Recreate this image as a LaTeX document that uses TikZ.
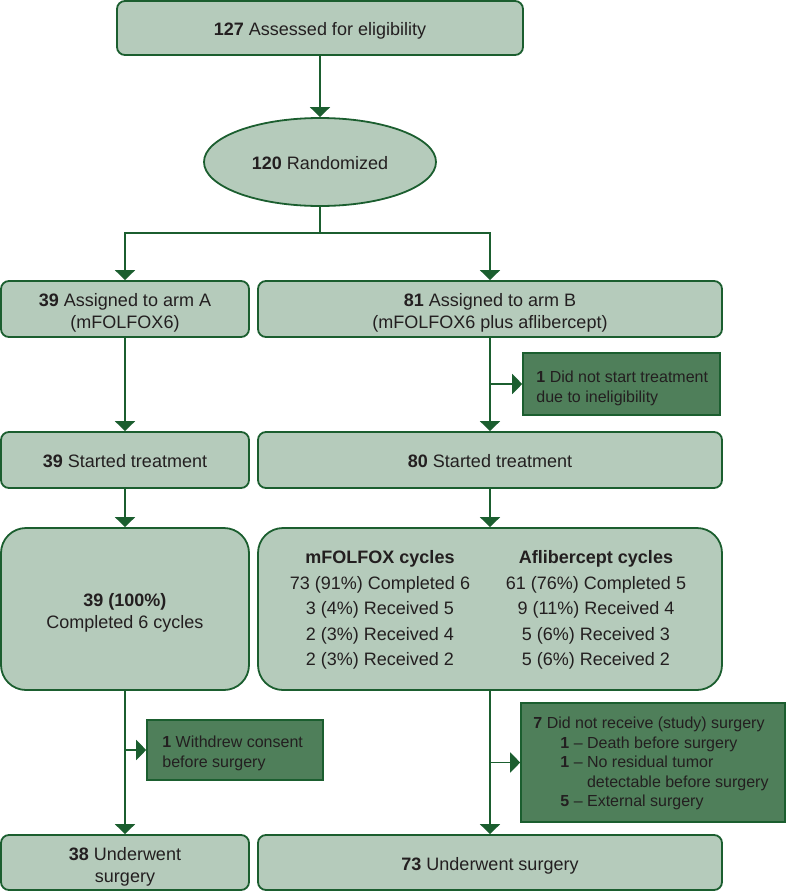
\documentclass[tikz,border=0pt]{standalone}
\usepackage{fontspec}
\setmainfont{Liberation Sans}
\usetikzlibrary{shapes.geometric,arrows.meta,calc}
\definecolor{lineg}{HTML}{1B5E2F}
\definecolor{boxfill}{HTML}{B5CBBB}
\definecolor{darkfill}{HTML}{4F7F5A}
\definecolor{txt}{HTML}{231F20}
\begin{document}
\begin{tikzpicture}[x=1pt,y=-1pt,
  mainbox/.style={draw=lineg, line width=1.8pt, fill=boxfill, rounded corners=8pt, text=txt,
    font=\fontsize{18pt}{22pt}\selectfont, align=center, inner sep=0pt,
    text height=16pt, text depth=1pt},
  twoline/.style={text height=42pt, text depth=3pt},
  cycbox/.style={mainbox, rounded corners=25pt},
  sidebox/.style={draw=lineg, line width=1.6pt, fill=darkfill, inner sep=0pt},
  sidetext/.style={text=txt, font=\fontsize{16pt}{19.4pt}\selectfont, align=left, inner sep=0pt, anchor=west,
    text depth=2pt},
  coltext/.style={text=txt, font=\fontsize{18pt}{25.5pt}\selectfont, align=center, inner sep=0pt,
    text height=116pt, text depth=3pt},
  conn/.style={draw=lineg, line width=1.8pt},
  arr/.style={conn, -{Triangle[length=10pt,width=20pt]}},
]
\useasboundingbox (0,0) rectangle (787,891);

% main boxes
\node[mainbox, minimum width=406, minimum height=54] (top) at (320,28) {\textbf{127} Assessed for eligibility};
\node[mainbox, ellipse, minimum width=232, minimum height=88] (rand) at (320,162) {\textbf{120} Randomized};
\node[mainbox, twoline, minimum width=248, minimum height=56] (armA) at (125,309) {\textbf{39} Assigned to arm A\\(mFOLFOX6)};
\node[mainbox, twoline, minimum width=464, minimum height=56] (armB) at (490,309) {\textbf{81} Assigned to arm B\\(mFOLFOX6 plus aflibercept)};
\node[mainbox, minimum width=248, minimum height=56] (startA) at (125,460) {\textbf{39} Started treatment};
\node[mainbox, minimum width=464, minimum height=56] (startB) at (490,460) {\textbf{80} Started treatment};
\node[cycbox, twoline, minimum width=248, minimum height=162] (cycA) at (125,609) {\textbf{39 (100\%)}\\Completed 6 cycles};
\node[cycbox, minimum width=464, minimum height=162, text height=0pt, text depth=0pt] (cycB) at (490,609) {};
\node[coltext] (colM) at (380,609) {\textbf{mFOLFOX cycles}\\73 (91\%) Completed 6\\3 (4\%) Received 5\\2 (3\%) Received 4\\2 (3\%) Received 2};
\node[coltext] (colF) at (596,609) {\textbf{Aflibercept cycles}\\61 (76\%) Completed 5\\9 (11\%) Received 4\\5 (6\%) Received 3\\5 (6\%) Received 2};
\node[mainbox, twoline, minimum width=248, minimum height=55] (surgA) at (125,862.5) {\textbf{38} Underwent\\surgery};
\node[mainbox, minimum width=464, minimum height=55] (surgB) at (490,862.5) {\textbf{73} Underwent surgery};

% side boxes
\node[sidebox, minimum width=197, minimum height=62] (inel) at (621.5,384) {};
\node[sidetext, text height=38pt] (ineltxt) at ($(inel.west)+(14,0)$) {\textbf{1} Did not start treatment\\due to ineligibility};
\node[sidebox, minimum width=176, minimum height=60] (withd) at (235,750) {};
\node[sidetext, text height=36pt] (withdtxt) at ($(withd.west)+(16,0)$) {\textbf{1} Withdrew consent\\before surgery};
\node[sidebox, minimum width=264, minimum height=119] (nosurg) at (653,762.5) {};
\node[sidetext, text height=90pt] (nosurgtxt) at ($(nosurg.west)+(13,0)$) {\textbf{7} Did not receive (study) surgery\\
\hspace*{27pt}\textbf{1} – Death before surgery\\
\hspace*{27pt}\textbf{1} – No residual tumor\\
\hspace*{27pt}\phantom{\textbf{1} – }detectable before surgery\\
\hspace*{27pt}\textbf{5} – External surgery};

% connectors
\coordinate (split) at (320,233);
\draw[arr] (top) -- (rand);
\draw[conn] (rand.south) -- (split);
\draw[arr] (split) -| (armA.north);
\draw[arr] (split) -| (armB.north);
\draw[arr] (armA) -- (startA);
\draw[arr] (armB) -- (startB);
\draw[arr] (armB.south |- inel.west) -- (inel.west);
\draw[arr] (startA) -- (cycA);
\draw[arr] (startB) -- (cycB);
\draw[arr] (cycA) -- (surgA);
\draw[arr] (cycA.south |- withd.west) -- (withd.west);
\draw[arr] (cycB) -- (surgB);
\draw[arr] (cycB.south |- nosurg.west) -- (nosurg.west);
\end{tikzpicture}
\end{document}
